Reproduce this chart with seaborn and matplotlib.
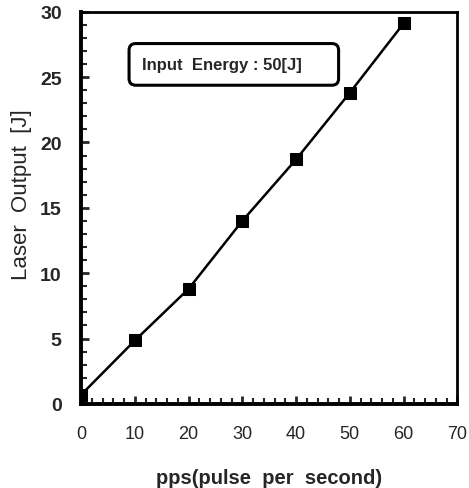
import numpy as np
import pandas as pd
import matplotlib
matplotlib.use("Agg")
import matplotlib.pyplot as plt
import seaborn as sns

# valeurs
pps = [0, 10, 20, 30, 40, 50, 60]
laser_output = [0.7, 4.85, 8.8, 14.0, 18.7, 23.8, 29.1]

x_ticks = [0, 10, 20, 30, 40, 50, 60, 70]
y_ticks = [0, 5, 10, 15, 20, 25, 30]

df = pd.DataFrame({"pps": pps, "out": laser_output})

sns.set_style("ticks")
plt.rcParams['font.family'] = ['Liberation Sans', 'DejaVu Sans']

fig = plt.figure(figsize=(4.69, 4.89), dpi=100)
ax = fig.add_axes([0.173, 0.172, 0.802, 0.802])

sns.lineplot(data=df, x="pps", y="out", ax=ax, color="black", linewidth=1.8,
             marker="s", markersize=8, markeredgecolor="black", markerfacecolor="black")

ax.set_xlim(0, 70)
ax.set_ylim(0, 30)
ax.set_xticks(x_ticks)
ax.set_yticks(y_ticks)
ax.set_xticks(np.arange(0, 71, 2), minor=True)
ax.set_yticks(np.arange(0, 31, 1), minor=True)
ax.tick_params(which="major", direction="in", length=6, width=2, labelsize=13)
ax.tick_params(which="minor", direction="in", length=4, width=1.5)
ax.tick_params(axis="x", pad=15)
ax.tick_params(axis="y", pad=14)
for lab in ax.get_yticklabels():
    lab.set_fontweight("bold")
    lab.set_fontsize(14)

for side, sp in ax.spines.items():
    sp.set_color("black")
    sp.set_linewidth(2.8 if side in ("left", "bottom") else 2.0)

ax.set_xlabel("pps(pulse  per  second)", fontsize=14.5, fontweight="bold", labelpad=19)
ax.set_ylabel("Laser  Output  [J]", fontsize=16, labelpad=6)
ax.yaxis.label.set_y(0.535)

ax.text(11.4, 25.97, "Input  Energy : 50[J]     ", fontsize=12, fontweight="bold",
        ha="left", va="center",
        bbox=dict(boxstyle="round,pad=0.8,rounding_size=0.4", facecolor="white",
                  edgecolor="black", linewidth=2.2))

fig.savefig("out.png", dpi=100)
